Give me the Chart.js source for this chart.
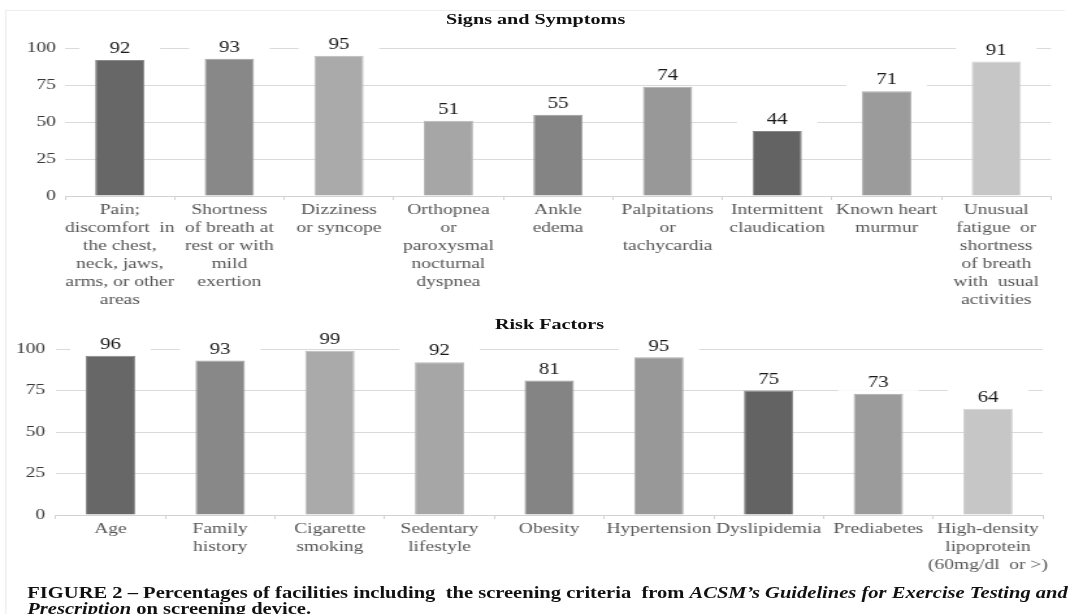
<!DOCTYPE html>
<html>
<head>
<meta charset="utf-8">
<script src="https://cdn.jsdelivr.net/npm/chart.js@4.4.1/dist/chart.umd.min.js"></script>
<style>
  html, body { margin: 0; padding: 0; background: #fff; width: 1070px; height: 614px; overflow: hidden; }
  /* the figure is laid out narrow and widened horizontally as a whole */
  #figure { position: absolute; left: 0; top: 0; width: 823px; height: 614px;
            transform: scaleX(1.30012); transform-origin: 0 0;
            font-family: "Liberation Serif", "Times New Roman", serif; color: #111; }
  #frame { position: absolute; left: 4px; top: 10px; width: 814px; height: 640px;
           border-top: 1px solid #ededed; border-left: 1px solid #ededed; }
  canvas { position: absolute; left: 0; }
  #signsChart { top: 0; }
  #riskChart { top: 300px; }
  .title { position: absolute; font-weight: bold; font-size: 15.5px; white-space: nowrap;
           transform: translate(-50%, -50%); }
  #caption { position: absolute; left: 21px; top: 585px; font-weight: bold; font-size: 15.8px;
             line-height: 16px; white-space: pre; }
</style>
</head>
<body>
<div id="figure">
  <div id="frame"></div>
  <div class="title" style="left:412px; top:19px;">Signs and Symptoms</div>
  <div class="title" style="left:422.7px; top:324px;">Risk Factors</div>
  <canvas id="signsChart" width="823" height="320"></canvas>
  <canvas id="riskChart" width="823" height="280"></canvas>
  <div id="caption">FIGURE 2 – Percentages of facilities including  the screening criteria  from <i>ACSM’s Guidelines for Exercise Testing and</i>
<i>Prescription</i> on screening device.</div>
</div>
<script>
// Signs and symptoms
const signsLabels = [
  ["Pain;", "discomfort  in", "the chest,", "neck, jaws,", "arms, or other", "areas"],
  ["Shortness", "of breath at", "rest or with", "mild", "exertion"],
  ["Dizziness", "or syncope"],
  ["Orthopnea", "or", "paroxysmal", "nocturnal", "dyspnea"],
  ["Ankle", "edema"],
  ["Palpitations", "or", "tachycardia"],
  ["Intermittent", "claudication"],
  ["Known heart", "murmur"],
  ["Unusual", "fatigue  or", "shortness", "of breath", "with  usual", "activities"]
];
const signsValues = [92, 93, 95, 51, 55, 74, 44, 71, 91];

// Risk factors
const riskLabels = [
  ["Age"],
  ["Family", "history"],
  ["Cigarette", "smoking"],
  ["Sedentary", "lifestyle"],
  ["Obesity"],
  ["Hypertension"],
  ["Dyslipidemia"],
  ["Prediabetes"],
  ["High-density", "lipoprotein", "(60mg/dl  or >)"]
];
const riskValues = [96, 93, 99, 92, 81, 95, 75, 73, 64];

const yTicks = [0, 25, 50, 75, 100];

// grey fill used for the n-th bar in both panels
const barGreys = ["#676767", "#888888", "#aaaaaa", "#a6a6a6", "#848484",
                  "#989898", "#636363", "#9b9b9b", "#c6c6c6"];
const barEdges = ["#8a8a8a", "#a2a2a2", "#bcbcbc", "#b9b9b9", "#9d9d9d",
                  "#adadad", "#858585", "#afafaf", "#d4d4d4"];

const SERIF = '"Liberation Serif", "Times New Roman", serif';

// number above each bar, on a white patch that breaks the grid lines behind it
const valueLabels = {
  id: 'valueLabels',
  afterDatasetsDraw(chart) {
    const ctx = chart.ctx;
    const ds = chart.data.datasets[0];
    const meta = chart.getDatasetMeta(0);
    ctx.save();
    ctx.font = '16px ' + SERIF;
    ctx.textAlign = 'center';
    ctx.textBaseline = 'middle';
    meta.data.forEach((bar, i) => {
      const y = bar.y - 11;
      ctx.fillStyle = '#ffffff';
      ctx.fillRect(bar.x - 31, y - 8, 62, 16);
      ctx.fillStyle = '#1a1a1a';
      ctx.fillText(String(ds.data[i]), bar.x, y);
    });
    ctx.restore();
  }
};

function panel(canvasId, labels, values, layout) {
  const canvas = document.getElementById(canvasId);
  return new Chart(canvas, {
    type: 'bar',
    data: {
      labels: labels,
      datasets: [{
        data: values,
        backgroundColor: barGreys,
        borderColor: barEdges,
        borderWidth: 1,
        borderSkipped: 'bottom',
        categoryPercentage: 1.0,
        barPercentage: 0.45
      }]
    },
    options: {
      responsive: false,
      animation: false,
      devicePixelRatio: 1,
      layout: { padding: { top: layout.top, right: layout.right, left: 0, bottom: 0 } },
      plugins: { legend: { display: false }, title: { display: false }, tooltip: { enabled: false } },
      scales: {
        x: {
          offset: true,
          grid: { display: true, drawOnChartArea: false, drawTicks: true, tickLength: 4, color: '#d2d2d2', offset: true },
          border: { display: true, color: '#d2d2d2', width: 1 },
          ticks: {
            autoSkip: false, maxRotation: 0, minRotation: 0, padding: 1,
            color: '#555555',
            font: { family: SERIF, size: 15, lineHeight: 1.2 }
          },
          afterFit(scale) { scale.height = canvas.height - layout.bottom; }
        },
        y: {
          min: 0, max: 100,
          afterBuildTicks(scale) { scale.ticks = yTicks.map(v => ({ value: v })); },
          grid: { color: '#dadada', lineWidth: 1, drawTicks: false },
          border: { display: false },
          ticks: {
            padding: layout.tickPad,
            color: '#3a3a3a',
            font: { family: SERIF, size: 15 }
          },
          afterFit(scale) { scale.width = layout.left; }
        }
      }
    },
    plugins: [valueLabels]
  });
}

panel('signsChart', signsLabels, signsValues, { top: 48.3, bottom: 196, left: 50, right: 14.6, tickPad: 7 });
panel('riskChart', riskLabels, riskValues, { top: 49, bottom: 215, left: 42.8, right: 20.9, tickPad: 8 });
</script>
</body>
</html>
